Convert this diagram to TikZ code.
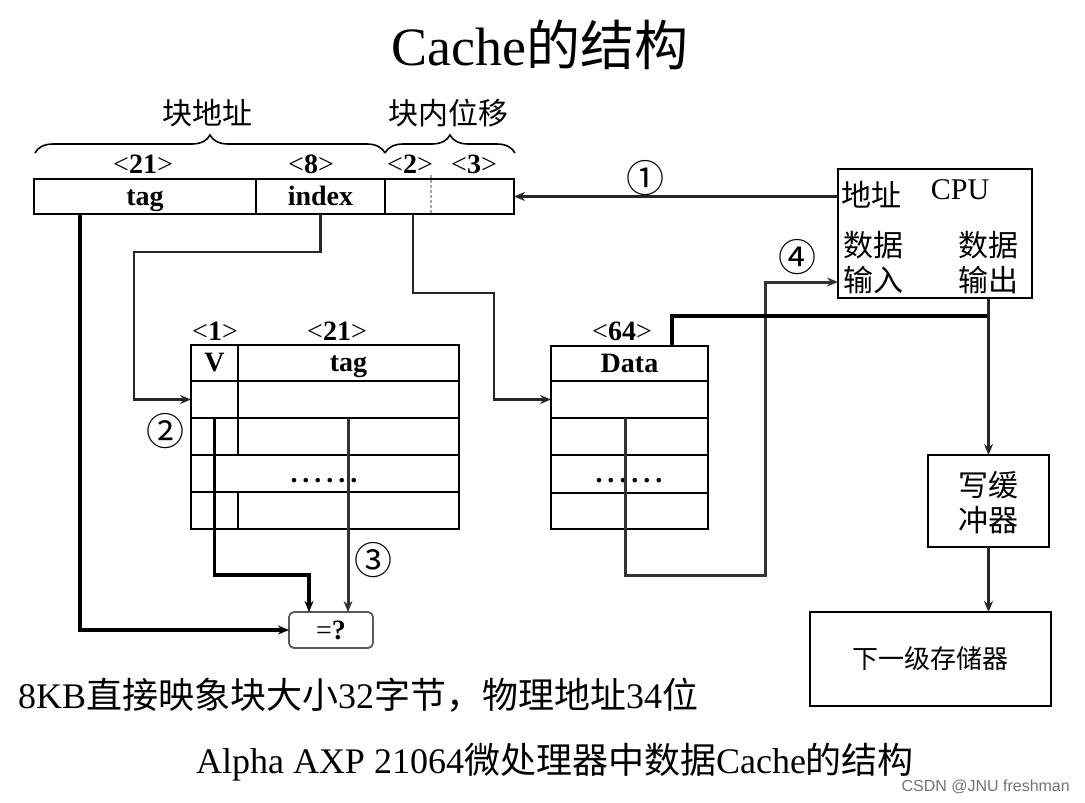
\documentclass[tikz,border=0pt]{standalone}
\usepackage{fontspec}
\setmainfont{Liberation Serif}
\newfontfamily\cjk{Noto Sans CJK SC}
\newfontfamily\wmfont{Liberation Sans}
\usetikzlibrary{arrows.meta,decorations.pathreplacing}
\newcommand\zh[1]{{\cjk #1}}
\newcommand\sixdots{\textbf{.}\hskip5pt\textbf{.}\hskip5pt\textbf{.}\hskip5pt\textbf{.}\hskip5pt\textbf{.}\hskip5pt\textbf{.}}
\tikzset{
  cell/.style={draw, line width=2pt, inner sep=0pt, outer sep=0pt, anchor=north west,
    text height=23pt, text depth=6pt,
    font=\fontsize{28}{32}\selectfont\bfseries},
  plainbox/.style={draw, line width=2pt, inner sep=0pt, outer sep=0pt, anchor=north west},
  lbl/.style={inner sep=0pt, font=\fontsize{28}{32}\selectfont},
  zhlbl/.style={inner sep=0pt, font=\cjk\fontsize{30}{35}\selectfont, align=center},
  circ/.style={inner sep=0pt, font=\cjk\fontsize{38}{42}\selectfont},
  conn/.style={line width=2.4pt, black!85},
  heavy/.style={line width=3.8pt, black},
  mid/.style={line width=3pt, black!80},
  arrowed/.style={-{Stealth[length=11pt,width=9pt]}},
  bracestyle/.style={decorate, decoration={brace, amplitude=18pt}, line width=1.6pt},
}
\begin{document}
\begin{tikzpicture}[x=1pt,y=-1pt]
\useasboundingbox (0,0) rectangle (1085,803);

% title
\node[font=\fontsize{54}{60}\selectfont] (title) at (540,45) {Cache\zh{的结构}};

% braces
\coordinate (b1) at (35,153);
\coordinate (b2) at (385,153);
\coordinate (b3) at (515,153);
\draw[bracestyle] (b1) -- (b2);
\draw[bracestyle] (b2) -- (b3);
\node[zhlbl] (blkaddr) at (207,113) {块地址};
\node[zhlbl] (blkoff) at (448,113) {块内位移};

% bit labels over register
\node[lbl] (l21) at (143,164) {<\textbf{21}>};
\node[lbl] (l8) at (311,164) {<\textbf{8}>};
\node[lbl] (l2) at (410,164) {<\textbf{2}>};
\node[lbl] (l3) at (474,164) {<\textbf{3}>};

% address register
\node[cell, minimum width=222pt, minimum height=35pt] (regtag) at (34,179) {tag};
\node[cell, minimum width=129pt, minimum height=35pt] (regidx) at (256,179) {index};
\node[cell, minimum width=129pt, minimum height=35pt] (regoff) at (385,179) {};
\draw[gray!70, line width=1.3pt, densely dashed] ([xshift=46pt,yshift=4pt]regoff.north west) -- ([xshift=46pt]regoff.south west);

% CPU
\node[plainbox, minimum width=194pt, minimum height=129pt] (cpu) at (838,169) {};
\node[zhlbl] (cpuaddr) at (871,195) {地址};
\node[lbl, font=\fontsize{30}{34}\selectfont] (cpuname) at (960,190) {CPU};
\node[zhlbl] (cpuin) at (873,263) {数据\\输入};
\node[zhlbl] (cpuout) at (988,263) {数据\\输出};

% arrow 1
\draw[conn, arrowed] (regoff.east -| cpu.west) -- (regoff.east);
\node[circ] (c1) at (645,178) {①};

% tag table
\node[lbl] (l1) at (215,331) {<\textbf{1}>};
\node[lbl] (l21b) at (337,331) {<\textbf{21}>};
\node[cell, minimum width=47pt, minimum height=36pt] (thv) at (191,345) {V};
\node[cell, minimum width=221pt, minimum height=36pt] (tht) at (238,345) {tag};
\node[cell, minimum width=47pt, minimum height=37pt] (t1v) at (191,381) {};
\node[cell, minimum width=221pt, minimum height=37pt] (t1t) at (238,381) {};
\node[cell, minimum width=47pt, minimum height=37pt] (t2v) at (191,418) {};
\node[cell, minimum width=221pt, minimum height=37pt] (t2t) at (238,418) {};
\node[cell, minimum width=268pt, minimum height=37pt] (t3) at (191,455) {};
\node[lbl, font=\fontsize{28}{32}\selectfont] (t3dots) at (324,481) {\sixdots};
\node[cell, minimum width=47pt, minimum height=37pt] (t4v) at (191,492) {};
\node[cell, minimum width=221pt, minimum height=37pt] (t4t) at (238,492) {};
\node[circ] (c2) at (165,431) {②};

% data table
\node[lbl] (l64) at (622,331) {<\textbf{64}>};
\node[cell, minimum width=157pt, minimum height=35pt] (dh) at (551,346) {Data};
\node[cell, minimum width=157pt, minimum height=37pt] (d1) at (551,381) {};
\node[cell, minimum width=157pt, minimum height=37pt] (d2) at (551,418) {};
\node[cell, minimum width=157pt, minimum height=38pt] (d3) at (551,455) {};
\node[lbl, font=\fontsize{28}{32}\selectfont] (d3dots) at (629,481) {\sixdots};
\node[cell, minimum width=157pt, minimum height=36pt] (d4) at (551,493) {};

% compare box
\node[draw=black!65, line width=1.8pt, rounded corners=5pt, inner sep=0pt, outer sep=0pt,
  anchor=north west, minimum width=84pt, minimum height=36pt,
  font=\fontsize{28}{32}\selectfont] (eq) at (289,612) {=\textbf{?}};
\node[circ] (c3) at (373,560) {③};

% write buffer and next level memory
\node[plainbox, minimum width=121pt, minimum height=92pt] (wb) at (928,455) {};
\node[zhlbl] (wbtext) at (988.5,503) {写缓\\冲器};
\node[plainbox, minimum width=241pt, minimum height=94pt,
  font=\cjk\fontsize{26}{30}\selectfont] (mem) at (810,612) {下一级存储器};

% index -> tag table row
\draw[conn, arrowed] (regidx.south) -- (320.5,252) -- (134,252) -- (134,399.5) -- (t1v.west);
% offset -> data row
\draw[conn, arrowed] ([xshift=28pt]regoff.south west) -- (413,293) -- (494,293) -- (494,399.5) -- (d1.west);
% address tag -> comparator
\draw[heavy, arrowed] ([xshift=46pt]regtag.south west) -- (80,630) -- (eq.west);
% valid bit -> comparator
\draw[heavy, arrowed] (t2v.north) -- (214.5,575) -- (309,575) -- ([xshift=20pt]eq.north west);
% stored tag -> comparator
\draw[mid, arrowed] ([xshift=110pt]t2t.north west) -- ([xshift=59pt]eq.north west);
% data -> CPU input
\draw[mid, arrowed] ([xshift=74pt]d2.north west) -- (625,575) -- (765,575) -- (765,282) -- ([yshift=16pt]cpu.south west);
\node[circ] (c4) at (797,257) {④};
% CPU output -> write buffer, and to data
\coordinate (jn) at (988.5,316);
\draw[heavy] ([xshift=121pt]dh.north west) -- (672,316) -- (jn);
\draw[conn, arrowed] ([xshift=-43.5pt]cpu.south east) -- (wb.north);
\draw[conn, arrowed] (wb.south) -- (wb.south |- mem.north);

% notes
\node[anchor=west, inner sep=0pt, font=\fontsize{36}{40}\selectfont] (note) at (18,695) {8KB\zh{直接映象块大小}32\zh{字节，物理地址}34\zh{位}};
\node[inner sep=0pt, font=\fontsize{36}{40}\selectfont] (caption) at (555,762) {Alpha AXP 21064\zh{微处理器中数据}Cache\zh{的结构}};
\node[anchor=east, inner sep=0pt, text=black!55, font=\wmfont\fontsize{16}{18}\selectfont] (wm) at (1070,787) {CSDN @JNU freshman};
\end{tikzpicture}
\end{document}
